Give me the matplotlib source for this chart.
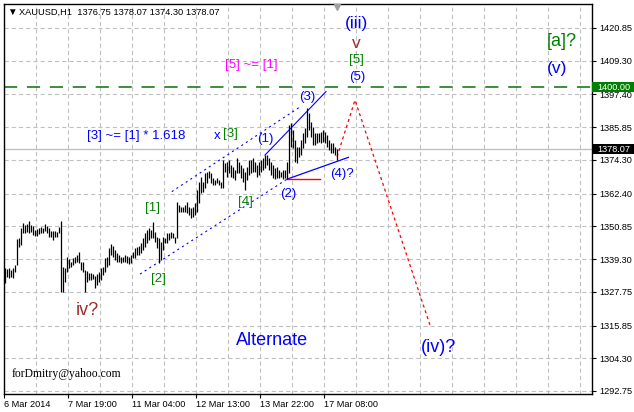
import matplotlib.pyplot as plt
from matplotlib.patches import Rectangle
from matplotlib.transforms import blended_transform_factory

plt.rcParams['lines.scale_dashes'] = False

# XAUUSD H1 bars (high / low), one per hour starting 6 Mar 2014
highs = [1336.2, 1335.8, 1336.2, 1335.5, 1336.2, 1337.2, 1346.4, 1346.7, 1350.3, 1352.0,
         1351.3, 1351.7, 1352.7, 1351.3, 1351.0, 1349.6, 1349.9, 1350.3, 1350.6, 1350.3,
         1351.7, 1351.0, 1350.3, 1349.2, 1349.2, 1349.2, 1348.9, 1350.6, 1352.7, 1336.5,
         1336.2, 1340.0, 1339.3, 1338.3, 1339.7, 1340.0, 1340.7, 1341.8, 1338.3, 1338.3,
         1335.5, 1335.1, 1334.4, 1334.4, 1334.0, 1333.3, 1334.0, 1334.7, 1336.2, 1336.5,
         1339.7, 1340.0, 1343.2, 1344.6, 1343.9, 1342.5, 1341.5, 1340.7, 1340.0, 1340.0,
         1340.7, 1340.4, 1340.0, 1340.7, 1341.8, 1343.2, 1343.6, 1343.9, 1345.0, 1346.7,
         1348.5, 1349.6, 1350.3, 1349.6, 1352.4, 1348.9, 1347.1, 1346.7, 1345.3, 1347.1,
         1346.7, 1348.5, 1348.5, 1348.9, 1348.5, 1347.1, 1359.5, 1358.4, 1357.7, 1357.7,
         1358.4, 1359.5, 1357.7, 1357.3, 1357.7, 1359.1, 1363.7, 1366.5, 1368.3, 1366.5,
         1369.7, 1370.0, 1370.4, 1369.7, 1367.9, 1367.2, 1367.9, 1367.2, 1366.5, 1374.3,
         1373.2, 1373.6, 1374.3, 1372.5, 1371.8, 1370.7, 1375.0, 1373.6, 1372.5, 1371.4,
         1370.0, 1371.8, 1374.3, 1374.3, 1375.0, 1373.6, 1372.5, 1373.6, 1374.3, 1375.0,
         1376.0, 1376.0, 1375.0, 1373.6, 1372.5, 1371.4, 1371.8, 1370.7, 1370.0, 1370.7,
         1370.7, 1373.6, 1386.6, 1387.3, 1384.9, 1381.3, 1378.9, 1378.9, 1381.3, 1383.8,
         1385.6, 1392.6, 1390.9, 1387.7, 1385.9, 1383.8, 1383.8, 1383.8, 1384.2, 1384.9,
         1384.2, 1383.1, 1381.3, 1380.3, 1380.3, 1378.9, 1378.07]
lows = [1330.9, 1333.0, 1332.6, 1333.0, 1332.6, 1334.7, 1337.2, 1343.6, 1344.3, 1348.5,
        1348.5, 1348.9, 1348.5, 1348.9, 1347.8, 1347.4, 1347.4, 1348.2, 1348.5, 1348.5,
        1349.2, 1348.5, 1347.1, 1347.1, 1346.0, 1347.1, 1347.1, 1348.5, 1327.7, 1327.7,
        1331.2, 1334.7, 1336.2, 1336.5, 1337.2, 1337.9, 1338.3, 1337.9, 1335.5, 1334.7,
        1327.7, 1331.2, 1331.9, 1331.9, 1332.3, 1329.1, 1330.2, 1331.2, 1331.9, 1333.7,
        1334.7, 1336.5, 1337.2, 1340.7, 1340.0, 1339.0, 1338.3, 1338.3, 1337.9, 1338.3,
        1338.3, 1337.9, 1337.6, 1337.9, 1339.7, 1339.7, 1340.7, 1340.7, 1341.5, 1342.5,
        1343.6, 1345.0, 1346.0, 1346.7, 1346.7, 1345.3, 1343.2, 1337.9, 1339.0, 1342.5,
        1345.0, 1345.0, 1346.0, 1346.7, 1346.7, 1345.0, 1346.7, 1355.9, 1355.9, 1355.9,
        1355.9, 1355.6, 1354.9, 1353.8, 1354.2, 1354.9, 1355.9, 1359.1, 1362.6, 1363.0,
        1364.4, 1366.2, 1367.9, 1366.2, 1365.4, 1365.4, 1366.2, 1365.4, 1364.4, 1364.4,
        1370.0, 1368.3, 1369.7, 1368.3, 1367.9, 1367.2, 1369.7, 1369.7, 1367.9, 1366.5,
        1363.7, 1367.2, 1369.0, 1369.7, 1370.0, 1370.0, 1368.3, 1369.0, 1370.0, 1370.7,
        1371.4, 1372.5, 1370.7, 1369.0, 1367.9, 1367.7, 1367.9, 1367.9, 1368.2, 1367.7,
        1367.9, 1367.5, 1369.7, 1378.9, 1378.5, 1373.6, 1373.2, 1375.3, 1376.0, 1378.5,
        1380.3, 1382.4, 1384.9, 1382.4, 1379.6, 1379.6, 1380.3, 1380.6, 1380.3, 1380.6,
        1380.3, 1378.9, 1377.8, 1376.7, 1376.7, 1376.0, 1374.30]

price_ticks = [1420.85, 1409.30, 1397.40, 1385.85, 1374.30, 1362.40,
               1350.85, 1339.30, 1327.75, 1315.85, 1304.30, 1292.75]
time_labels = ['6 Mar 2014', '7 Mar 19:00', '11 Mar 04:00',
               '12 Mar 13:00', '13 Mar 22:00', '17 Mar 08:00']
time_bars = [0, 32, 64, 96, 128, 160]

bid = 1378.07
level = 1400.00

# wave markup lines (bar index, price)
upper_chan_x, upper_chan_y = [83.4, 147.5], [1363.1, 1393.0]
lower_chan_x, lower_chan_y = [67.5, 141], [1334.0, 1367.5]
line13_x, line13_y = [130, 160.5], [1376.0, 1398.4]
line24_x, line24_y = [141, 171.7], [1367.5, 1375.2]
red_lvl_x, red_lvl_y = [141, 157.5], [1367.5, 1367.5]
proj_x, proj_y = [166, 175, 212.5], [1375.4, 1395.4, 1316.0]

blue = '#0000ff'
green = '#008000'
brown = '#a52a2a'
labels = [
    ('[5] ~= [1]', 123.4, 1407.8, '#ff00ff', 9.5),
    ('[3] ~= [1] * 1.618', 65.5, 1382.7, blue, 9.5),
    ('x', 105.9, 1382.9, blue, 9.5),
    ('[3]', 112.5, 1383.4, green, 9.5),
    ('(1)', 130, 1381.7, blue, 9.5),
    ('[1]', 73.5, 1357.3, green, 9.5),
    ('[2]', 76.5, 1332.3, green, 9.5),
    ('[4]', 120, 1359.5, green, 9.5),
    ('(2)', 141.5, 1362.3, blue, 9.5),
    ('(3)', 151, 1396.5, blue, 9.5),
    ('(4)?', 168.5, 1369.3, blue, 9.5),
    ('(iii)', 175.9, 1422.5, blue, 12.5),
    ('v', 175.9, 1415.5, brown, 12.5),
    ('[5]', 175.9, 1409.6, green, 9.5),
    ('(5)', 175.9, 1403.5, blue, 9.5),
    ('[a]?', 278.4, 1416.0, green, 13),
    ('(v)', 275.9, 1406.6, blue, 12.5),
    ('iv?', 41.4, 1321.1, brown, 13),
    ('Alternate', 133.5, 1310.4, blue, 13),
    ('(iv)?', 217, 1308.2, blue, 13),
]

fig = plt.figure(figsize=(6.34, 4.12), dpi=100)
ax = fig.add_axes([3.5 / 634, 18 / 412, 588.5 / 634, 390.5 / 412])
ax.set_xlim(-0.75, 293.5)
ax.set_ylim(1291.69, 1429.49)

# grid
for p in price_ticks:
    ax.axhline(p, color='#c0c0c0', lw=0.8, ls=(0, (3, 2.2)), zorder=0)
for g in range(1, 19):
    ax.axvline(16 * g - 0.5, color='#c0c0c0', lw=0.8, ls=(0, (3, 2.2)), zorder=0)

ax.axhline(bid, color='#c0c0c0', lw=1.0, zorder=1)
ax.axhline(level, color='#0a6e0a', lw=1.1, ls=(0, (9.5, 7)), zorder=1)

bars_x = list(range(len(highs)))
ax.vlines(bars_x, lows, highs, color='black', lw=0.9, zorder=3)

ax.plot(upper_chan_x, upper_chan_y, color=blue, lw=0.8, ls=(0, (1.5, 2.5)), zorder=2)
ax.plot(lower_chan_x, lower_chan_y, color=blue, lw=0.8, ls=(0, (1.5, 2.5)), zorder=2)
ax.plot(line13_x, line13_y, color=blue, lw=0.8, zorder=2)
ax.plot(line24_x, line24_y, color=blue, lw=0.9, zorder=2)
ax.plot(red_lvl_x, red_lvl_y, color='red', lw=1.0, zorder=2)
ax.plot(proj_x, proj_y, color='red', lw=0.9, ls=(0, (2.2, 2.2)), zorder=2)

for txt, x, y, c, s in labels:
    ax.text(x, y, txt, color=c, fontsize=s, ha='center', va='center',
            family='Liberation Sans', zorder=4)

ax.text(3.4, 1298.7, 'forDmitry@yahoo.com', fontsize=8.4, family='Liberation Serif',
        ha='left', va='center', color='black')

# axes styling
for sp in ax.spines.values():
    sp.set_color('black')
    sp.set_linewidth(1.0)

ax.yaxis.tick_right()
ax.set_yticks(price_ticks)
ax.set_yticklabels([f'{p:.2f}' for p in price_ticks])
ax.tick_params(axis='y', length=3, width=0.8, pad=2, labelsize=6.6)
ax.set_xticks([b - 0.5 for b in time_bars])
ax.set_xticklabels(time_labels)
ax.tick_params(axis='x', length=3, width=0.8, pad=1.5, labelsize=6.6)
for lab in ax.get_xticklabels():
    lab.set_horizontalalignment('left')
    lab.set_family('Liberation Sans')
for lab in ax.get_yticklabels():
    lab.set_family('Liberation Sans')

# price boxes on the right scale
tr = blended_transform_factory(ax.transAxes, ax.transData)
for p, fc in [(level, '#008000'), (bid, 'black')]:
    ax.add_patch(Rectangle((1.0, p - 1.65), 42 / 588.5, 3.4, transform=tr,
                           facecolor=fc, edgecolor='none', clip_on=False, zorder=5))
    ax.text(1.0 + 5 / 588.5, p, f'{p:.2f}', transform=tr, color='white',
            fontsize=6.6, family='Liberation Sans', va='center', ha='left',
            clip_on=False, zorder=6)

# chart shift marker
ax.plot([166], [1428.2], marker='v', color='#a0a0a0', ms=5, clip_on=False, zorder=6)

fig.text(7 / 634, 1 - 12 / 412, '\u25bc', fontsize=7, family=['Liberation Sans', 'DejaVu Sans'],
         va='center', ha='left')
fig.text(19 / 634, 1 - 12 / 412, 'XAUUSD,H1  1376.75 1378.07 1374.30 1378.07',
         fontsize=6.7, family='Liberation Sans', va='center', ha='left')

fig.savefig('out.png', dpi=100, facecolor='white')
